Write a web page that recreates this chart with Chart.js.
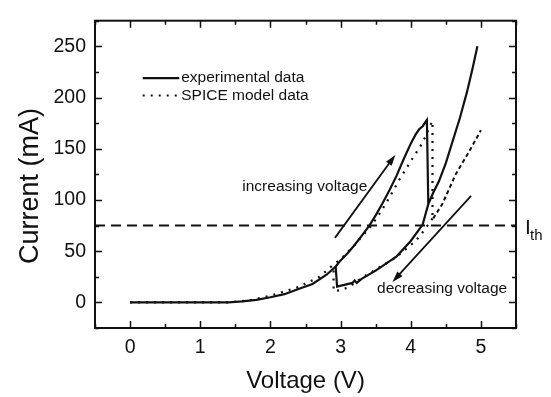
<!DOCTYPE html>
<html>
<head>
<meta charset="utf-8">
<script src="https://cdn.jsdelivr.net/npm/chart.js@4.4.0/dist/chart.umd.min.js"></script>
<style>
  html, body { margin: 0; padding: 0; background: #fff; }
  #wrap { width: 551px; height: 397px; }
</style>
</head>
<body>
<div id="wrap"><canvas id="ivChart"></canvas></div>
<script>
// experimental data, rising sweep (V, mA)
const expUpV = [0, 0.5, 1.0, 1.4, 1.6, 1.8, 2.0, 2.2, 2.4, 2.6, 2.8, 2.93, 3.0, 3.1, 3.2, 3.3, 3.41, 3.5, 3.6, 3.7, 3.8, 3.9, 4.0, 4.07, 4.12, 4.17, 4.23, 4.25, 4.32, 4.4, 4.5, 4.6, 4.7, 4.8, 4.88, 4.95];
const expUpI = [0, 0, 0, 0, 1, 2.5, 5, 8, 13, 18, 27, 35, 41, 48, 56, 65, 75, 85, 97, 110, 124, 140, 155, 164, 169, 172, 178, 96, 107, 118, 136, 158, 180, 205, 228, 250];
// experimental data, falling sweep (lower branch)
const expDownV = [4.25, 4.17, 4.0, 3.8, 3.5, 3.3, 3.23, 3.2, 3.17, 2.95, 2.93];
const expDownI = [96, 76, 60, 45, 31, 23, 19, 21.5, 19, 15.5, 35];

// SPICE model, rising sweep
const spiceUpV = [0, 1.0, 1.4, 1.7, 2.0, 2.4, 2.7, 2.9, 3.0, 3.2, 3.44, 3.57, 3.7, 3.83, 4.02, 4.17, 4.28, 4.31, 4.31];
const spiceUpI = [0, 0, 0, 2, 6.5, 15, 25, 37, 42, 56, 75, 88, 103, 119, 140, 156, 173, 177, 82];
// SPICE model, high branch
const spiceHighV = [4.32, 4.45, 4.64, 4.83, 5.0];
const spiceHighI = [82, 96, 125, 147, 168];
// SPICE model, falling sweep
const spiceDownV = [4.31, 4.21, 4.07, 3.79, 3.55, 3.3, 3.12, 3.0, 2.9, 2.9];
const spiceDownI = [82, 72, 60, 44, 34, 24, 15, 12, 11, 37];

// threshold current
const thresholdI = 75;
const thresholdV = [-0.5, 5.5];

// axes
const xTicks = [0, 1, 2, 3, 4, 5];
const yTicks = [0, 50, 100, 150, 200, 250];

// direction arrows [fromV, fromI, toV, toI]
const arrowUp = [2.92, 63, 3.78, 144];
const arrowDown = [4.86, 104, 3.74, 20];

function pts(xs, ys) {
    return xs.map((x, i) => ({ x: x, y: ys[i] }));
}

const FONT = '"Liberation Sans", Arial, Helvetica, sans-serif';

function lineSet(xs, ys, dash, width) {
    return {
        data: pts(xs, ys),
        showLine: true,
        borderColor: '#111',
        borderWidth: width,
        borderDash: dash,
        pointRadius: 0,
        tension: 0,
        fill: false
    };
}

// frame, inward ticks, arrows and text labels
const decorPlugin = {
    id: 'decor',
    afterDraw(chart) {
        const ctx = chart.ctx;
        const area = chart.chartArea;
        const xs = chart.scales.x;
        const ys = chart.scales.y;
        ctx.save();
        ctx.strokeStyle = '#111';
        ctx.fillStyle = '#111';

        // ticks
        ctx.lineWidth = 1.5;
        ctx.beginPath();
        for (let v = -0.5; v <= 5.5; v += 0.5) {
            const px = Math.round(xs.getPixelForValue(v)) + 0.5;
            const len = Number.isInteger(v) ? 7 : 4;
            ctx.moveTo(px, area.bottom); ctx.lineTo(px, area.bottom - len);
            ctx.moveTo(px, area.top); ctx.lineTo(px, area.top + len);
        }
        for (let v = -25; v <= 275; v += 25) {
            const py = Math.round(ys.getPixelForValue(v)) + 0.5;
            const len = v % 50 === 0 ? 7 : 4;
            ctx.moveTo(area.left, py); ctx.lineTo(area.left + len, py);
            ctx.moveTo(area.right, py); ctx.lineTo(area.right - len, py);
        }
        ctx.stroke();

        // frame
        ctx.lineWidth = 2;
        ctx.strokeRect(area.left, area.top, area.right - area.left, area.bottom - area.top);

        // arrows
        function arrow(a) {
            const x0 = xs.getPixelForValue(a[0]), y0 = ys.getPixelForValue(a[1]);
            const x1 = xs.getPixelForValue(a[2]), y1 = ys.getPixelForValue(a[3]);
            const ang = Math.atan2(y1 - y0, x1 - x0);
            ctx.lineWidth = 1.8;
            ctx.beginPath();
            ctx.moveTo(x0, y0);
            ctx.lineTo(x1 - 6 * Math.cos(ang), y1 - 6 * Math.sin(ang));
            ctx.stroke();
            ctx.beginPath();
            ctx.moveTo(x1, y1);
            ctx.lineTo(x1 - 11 * Math.cos(ang) + 3.5 * Math.sin(ang), y1 - 11 * Math.sin(ang) - 3.5 * Math.cos(ang));
            ctx.lineTo(x1 - 11 * Math.cos(ang) - 3.5 * Math.sin(ang), y1 - 11 * Math.sin(ang) + 3.5 * Math.cos(ang));
            ctx.closePath();
            ctx.fill();
        }
        arrow(arrowUp);
        arrow(arrowDown);

        // annotations
        ctx.font = '15.5px ' + FONT;
        ctx.textBaseline = 'middle';
        ctx.textAlign = 'right';
        ctx.fillText('increasing voltage', xs.getPixelForValue(3.38), ys.getPixelForValue(113));
        ctx.textAlign = 'left';
        ctx.fillText('decreasing voltage', xs.getPixelForValue(3.52), ys.getPixelForValue(13.5));

        // legend
        const lx0 = xs.getPixelForValue(0.18), lx1 = xs.getPixelForValue(0.70);
        const ly1 = ys.getPixelForValue(219), ly2 = ys.getPixelForValue(202);
        ctx.lineWidth = 2.2;
        ctx.setLineDash([]);
        ctx.beginPath(); ctx.moveTo(lx0, ly1); ctx.lineTo(lx1, ly1); ctx.stroke();
        ctx.setLineDash([2, 6]);
        ctx.lineWidth = 2.2;
        ctx.beginPath(); ctx.moveTo(lx0, ly2); ctx.lineTo(lx1, ly2); ctx.stroke();
        ctx.setLineDash([]);
        ctx.fillText('experimental data', lx1 + 2, ly1);
        ctx.fillText('SPICE model data', lx1 + 2, ly2);

        // I_th label
        const ty = ys.getPixelForValue(thresholdI);
        ctx.font = '21px ' + FONT;
        ctx.textBaseline = 'alphabetic';
        ctx.fillText('I', area.right + 9, ty + 8);
        ctx.font = '15px ' + FONT;
        ctx.fillText('th', area.right + 14, ty + 14);

        // axis titles
        ctx.textAlign = 'center';
        ctx.font = '24px ' + FONT;
        ctx.fillText('Voltage (V)', (area.left + area.right) / 2, 388);
        ctx.save();
        ctx.translate(38, 186);
        ctx.rotate(-Math.PI / 2);
        ctx.font = '27px ' + FONT;
        ctx.fillText('Current (mA)', 0, 0);
        ctx.restore();

        ctx.restore();
    }
};

document.addEventListener('DOMContentLoaded', function() {
    const ctx = document.getElementById('ivChart').getContext('2d');
    new Chart(ctx, {
        type: 'scatter',
        data: {
            datasets: [
                lineSet(expUpV, expUpI, [], 2.2),
                lineSet(expDownV, expDownI, [], 2.2),
                lineSet(spiceUpV, spiceUpI, [2, 6], 2.2),
                lineSet(spiceHighV, spiceHighI, [4, 3], 2),
                lineSet(spiceDownV, spiceDownI, [2, 6], 2.2),
                lineSet(thresholdV, thresholdV.map(() => thresholdI), [10, 6], 2)
            ]
        },
        options: {
            responsive: true,
            maintainAspectRatio: false,
            animation: false,
            devicePixelRatio: 1,
            layout: { padding: { left: 0, right: 35, top: 5, bottom: 0 } },
            plugins: {
                legend: { display: false },
                tooltip: { enabled: false }
            },
            scales: {
                x: {
                    type: 'linear',
                    min: -0.5,
                    max: 5.5,
                    afterBuildTicks: s => { s.ticks = xTicks.map(v => ({ value: v })); },
                    afterFit: s => { s.height = 69; },
                    grid: { display: false, drawTicks: false },
                    border: { display: false },
                    ticks: { color: '#111', padding: 8, font: { family: FONT, size: 19.5 } }
                },
                y: {
                    type: 'linear',
                    min: -25,
                    max: 275,
                    afterBuildTicks: s => { s.ticks = yTicks.map(v => ({ value: v })); },
                    afterFit: s => { s.width = 95; },
                    grid: { display: false, drawTicks: false },
                    border: { display: false },
                    ticks: { color: '#111', padding: 9, font: { family: FONT, size: 19.5 } }
                }
            }
        },
        plugins: [decorPlugin]
    });
});
</script>
</body>
</html>
